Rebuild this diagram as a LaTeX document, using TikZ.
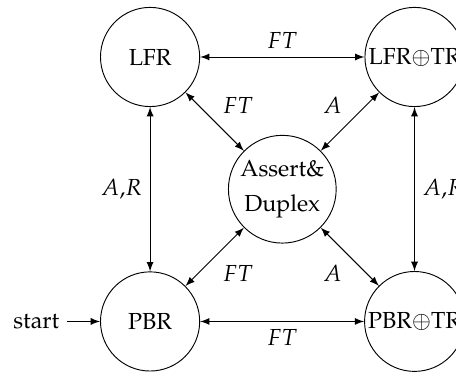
\documentclass[tikz,border=0pt]{standalone}
\usepackage[T1]{fontenc}
\usepackage{mathpazo}
\usetikzlibrary{automata,arrows}
\begin{document}
\begin{tikzpicture}[>=latex,
  state/.append style={minimum size=1.5cm, inner sep=1pt, align=center},
  edge/.style={<->}]
\useasboundingbox (-2.27,-0.756) rectangle (4.627,4.862);
\node[state] (LFR) at (0,4) {LFR};
\node[state] (LFRTR) at (4,4) {LFR$\oplus$TR};
\node[state] (AD) at (2,2) {Assert\&\\[2.9pt]Duplex};
\node[state,initial,initial text=start] (PBR) at (0,0) {PBR};
\node[state] (PBRTR) at (4,0) {PBR$\oplus$TR};
\draw[edge] (LFR) -- node[above] {$FT$} (LFRTR);
\draw[edge] (LFR) -- node[left] {$A$,$R$} (PBR);
\draw[edge] (LFRTR) -- node[right] {$A$,$R$} (PBRTR);
\draw[edge] (PBR) -- node[below] {$FT$} (PBRTR);
\draw[edge] (LFR) -- node[above right] {$FT$} (AD);
\draw[edge] (LFRTR) -- node[above left] {$A$} (AD);
\draw[edge] (PBR) -- node[below right] {$FT$} (AD);
\draw[edge] (PBRTR) -- node[below left] {$A$} (AD);
\end{tikzpicture}
\end{document}
